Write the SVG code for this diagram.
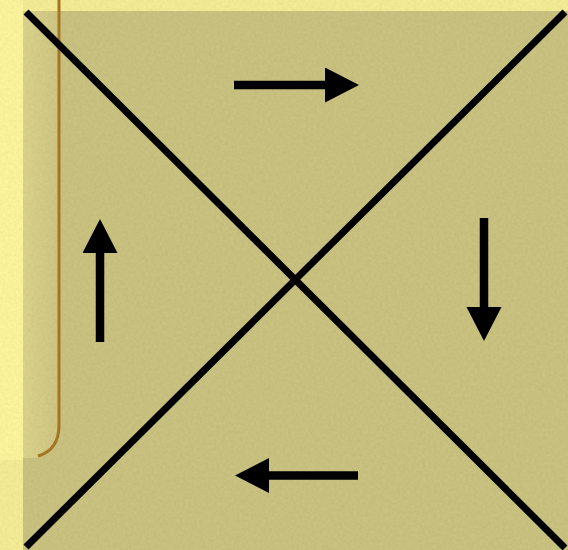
<svg xmlns="http://www.w3.org/2000/svg" width="568" height="550" viewBox="0 0 568 550">
  <defs>
    <style>
      .diag { stroke: #000; stroke-width: 7; stroke-linecap: butt; fill: none; }
      .shaft { stroke: #000; stroke-width: 8.5; fill: none; marker-end: url(#head); }
    </style>
    <marker id="head" markerUnits="userSpaceOnUse" markerWidth="36" markerHeight="36" viewBox="0 0 36 36" refX="0" refY="17.5" orient="auto">
      <path d="M0,0 L34,17.5 L0,35 Z" fill="#000"/>
    </marker>
    <linearGradient id="panel" x1="0" y1="0" x2="1" y2="0">
      <stop offset="0" stop-color="#dcd48c"/>
      <stop offset="1" stop-color="#d0c783"/>
    </linearGradient>
    <filter id="noise" x="0" y="0" width="100%" height="100%">
      <feTurbulence type="fractalNoise" baseFrequency="0.35" numOctaves="2" seed="3" result="n"/>
      <feColorMatrix in="n" type="matrix" values="0 0 0 0 0  0 0 0 0 0  0 0 0 0 0  0 0 0 0.06 -0.01"/>
    </filter>
  </defs>
  <g id="background">
    <rect x="0" y="0" width="568" height="550" fill="#f6ed96"/>
    <rect x="0" y="0" width="23" height="460" fill="#fdf69d"/>
    <rect x="23" y="11" width="545" height="539" fill="#cbc380"/>
    <path d="M23,11 L58,11 L58,425 Q58,450 38,458 L23,458 Z" fill="url(#panel)"/>
    <rect x="0" y="0" width="568" height="550" filter="url(#noise)"/>
    <path d="M59,0 L59,425 Q59,450 38,456" stroke="#a47624" stroke-width="3" fill="none"/>
  </g>
  <g id="cross">
    <line class="diag" x1="26" y1="12" x2="565" y2="548"/>
    <line class="diag" x1="565" y1="12" x2="26" y2="547"/>
  </g>
  <g id="connectors">
    <line id="arrow-right" class="shaft" x1="234" y1="85" x2="325" y2="85"/>
    <line id="arrow-down" class="shaft" x1="484" y1="218" x2="484" y2="307"/>
    <line id="arrow-left" class="shaft" x1="358" y1="475.5" x2="269" y2="475.5"/>
    <line id="arrow-up" class="shaft" x1="100" y1="342" x2="100" y2="253"/>
  </g>
</svg>
